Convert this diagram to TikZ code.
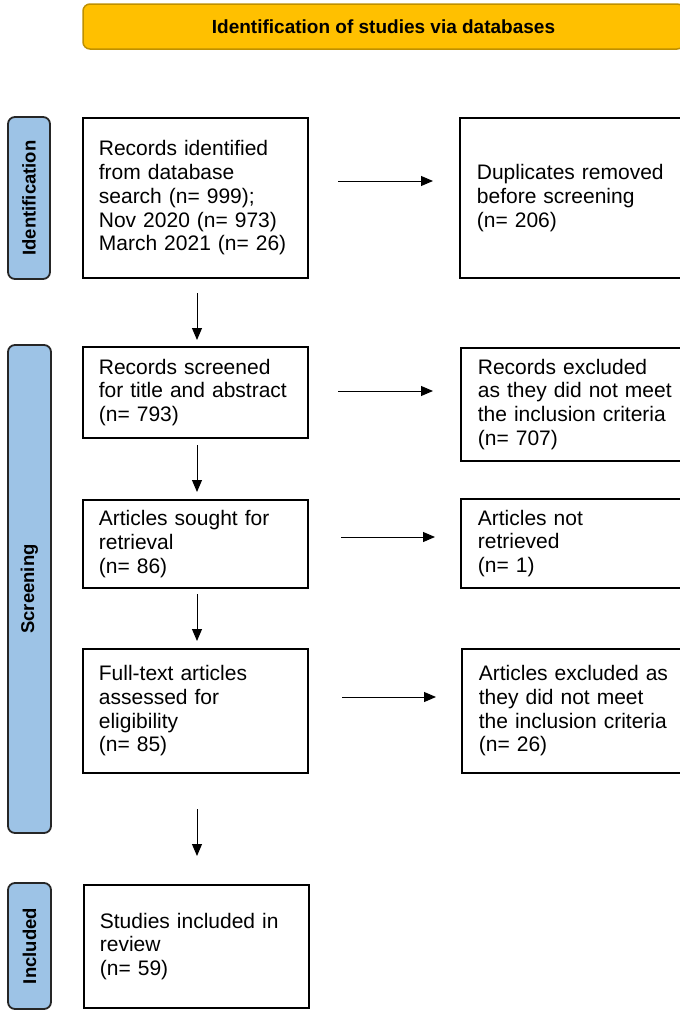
\documentclass[tikz,border=0pt]{standalone}
\usepackage{fontspec}
\setmainfont{Liberation Sans}
\usetikzlibrary{arrows.meta}
\definecolor{titlefill}{HTML}{FFC000}
\definecolor{titledraw}{HTML}{BF9000}
\definecolor{sidefill}{HTML}{9DC3E6}
\tikzset{
  boxnode/.style={draw=black, line width=1.8pt, align=left, anchor=north west,
    inner xsep=16pt, inner ysep=0pt, font=\fontsize{21}{23.7}\selectfont},
  sidebox/.style={draw=black!85, line width=1.8pt, fill=sidefill, rounded corners=7pt},
  sidetext/.style={rotate=90, font=\bfseries\fontsize{18.5}{20}\selectfont},
  arr/.style={-{Triangle[length=12pt,width=10pt]}, line width=1pt},
}
\begin{document}
\begin{tikzpicture}[x=1pt,y=-1pt]
\useasboundingbox (0,0) rectangle (680,1010);
\clip (0,0) rectangle (680,1010);
% title
\draw[fill=titlefill, draw=titledraw, line width=1.5pt, rounded corners=7pt] (83,4) rectangle (684,49);
\node[font=\bfseries\fontsize{19}{21}\selectfont] (title) at (383.5,27) {Identification of studies via databases};
% side labels
\draw[sidebox] (8,117) rectangle (50,279);
\node[sidetext] (lid) at (29,198) {Identification};
\draw[sidebox] (8,345) rectangle (51,833);
\node[sidetext] (lsc) at (29.5,589) {Screening};
\draw[sidebox] (8,883) rectangle (51,1009);
\node[sidetext] (lin) at (29.5,946) {Included};
% left column
\node[boxnode, minimum width=225pt, minimum height=160pt, text width=193pt] (b1) at (82,117)
  {Records identified\\from database\\search (n= 999);\\Nov 2020 (n= 973)\\March 2021 (n= 26)};
\node[boxnode, minimum width=225pt, minimum height=91pt, text width=193pt] (b2) at (82,346)
  {Records screened\\for title and abstract\\(n= 793)};
\node[boxnode, minimum width=225pt, minimum height=88pt, text width=193pt] (b3) at (82,499)
  {Articles sought for\\retrieval\\(n= 86)};
\node[boxnode, minimum width=225pt, minimum height=124pt, text width=193pt] (b4) at (82,648)
  {Full-text articles\\assessed for\\eligibility\\(n= 85)};
\node[boxnode, minimum width=225pt, minimum height=123pt, text width=193pt] (b5) at (83,884)
  {Studies included in\\review\\(n= 59)};
% right column
\node[boxnode, inner xsep=17pt, minimum width=260pt, minimum height=160pt, text width=226pt] (r1) at (459,117)
  {Duplicates removed\\before screening\\(n= 206)};
\node[boxnode, inner xsep=17pt, minimum width=260pt, minimum height=113pt, text width=226pt] (r2) at (460,347)
  {Records excluded\\as they did not meet\\the inclusion criteria\\(n= 707)};
\node[boxnode, inner xsep=17pt, minimum width=260pt, minimum height=89pt, text width=226pt] (r3) at (460,498)
  {Articles not\\retrieved\\(n= 1)};
\node[boxnode, inner xsep=17pt, minimum width=260pt, minimum height=124pt, text width=226pt] (r4) at (461,648)
  {Articles excluded as\\they did not meet\\the inclusion criteria\\(n= 26)};
% arrow end points
\coordinate (h1s) at (338,181); \coordinate (h1e) at (433,181);
\coordinate (h2s) at (338,391); \coordinate (h2e) at (433,391);
\coordinate (h3s) at (341,537); \coordinate (h3e) at (435,537);
\coordinate (h4s) at (342,697); \coordinate (h4e) at (436,697);
\coordinate (v1s) at (197,293); \coordinate (v1e) at (197,340);
\coordinate (v2s) at (197,445); \coordinate (v2e) at (197,492);
\coordinate (v3s) at (197,594); \coordinate (v3e) at (197,641);
\coordinate (v4s) at (197,809); \coordinate (v4e) at (197,856);
\draw[arr] (h1s) -- (h1e);
\draw[arr] (h2s) -- (h2e);
\draw[arr] (h3s) -- (h3e);
\draw[arr] (h4s) -- (h4e);
\draw[arr] (v1s) -- (v1e);
\draw[arr] (v2s) -- (v2e);
\draw[arr] (v3s) -- (v3e);
\draw[arr] (v4s) -- (v4e);
\end{tikzpicture}
\end{document}
